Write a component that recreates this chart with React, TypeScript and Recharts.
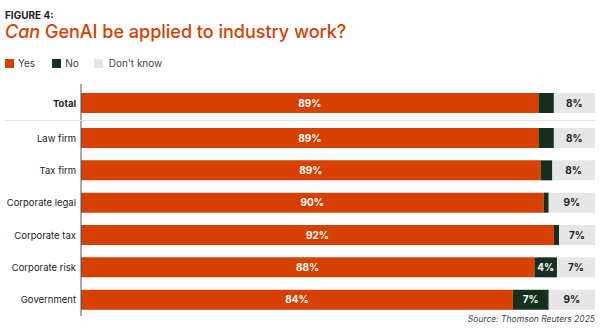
import React from 'react';
import { BarChart, Bar, XAxis, YAxis, LabelList } from 'recharts';

const totalLabel = ['Total'];
const totalYes = [89];
const totalNo = [3];
const totalDontKnow = [8];

const categories = ['Law firm', 'Tax firm', 'Corporate legal', 'Corporate tax', 'Corporate risk', 'Government'];
const yes = [89, 89.4, 90, 92, 88.2, 84];
const no = [3, 2.3, 1, 1, 4.4, 7];
const dontKnow = [8, 8.3, 9, 7, 7.4, 9];

const seriesNames = ['Yes', 'No', "Don't know"];
const colors = ['#D64000', '#15301F', '#E6E6E6'];

const FONT = 'Inter, "Noto Sans", sans-serif';

const build = (names: string[], y: number[], n: number[], d: number[]) =>
  names.map((name, i) => ({ name, yes: y[i], no: n[i], dk: d[i] }));

const totalData = build(totalLabel, totalYes, totalNo, totalDontKnow);
const rowData = build(categories, yes, no, dontKnow);

const pct = (v: any) => `${Math.round(Number(v))}%`;
const pctIfBig = (v: any) => (Number(v) >= 4 ? `${Math.round(Number(v))}%` : '');

const labelStyle = { fontSize: 10, fontWeight: 700, fontFamily: FONT };

// single-line tick, recharts wraps long labels otherwise
const CatTick = (props: any) => {
  const { x, y, payload, bold } = props;
  return (
    <text
      x={x - 5}
      y={y}
      dy={3.5}
      textAnchor="end"
      fontSize={9.5}
      fill="#222"
      fontFamily={FONT}
      fontWeight={bold ? 700 : 400}
    >
      {payload.value}
    </text>
  );
};

function Rows({ data, height, bold }: { data: any[]; height: number; bold?: boolean }) {
  return (
    <BarChart
      width={603}
      height={height}
      data={data}
      layout="vertical"
      margin={{ top: 0, right: 8, bottom: 0, left: 0 }}
      barSize={20}
    >
      <XAxis type="number" domain={[0, 100]} hide />
      <YAxis
        type="category"
        dataKey="name"
        width={81}
        axisLine={{ stroke: '#555' }}
        tickLine={false}
        tickSize={0}
        tickMargin={0}
        tick={<CatTick bold={bold} />}
      />
      <Bar dataKey="yes" stackId="a" fill={colors[0]} isAnimationActive={false}>
        <LabelList dataKey="yes" position="center" formatter={pct} fill="#fff" style={labelStyle} />
      </Bar>
      <Bar dataKey="no" stackId="a" fill={colors[1]} isAnimationActive={false}>
        <LabelList dataKey="no" position="center" formatter={pctIfBig} fill="#fff" style={labelStyle} />
      </Bar>
      <Bar dataKey="dk" stackId="a" fill={colors[2]} isAnimationActive={false}>
        <LabelList dataKey="dk" position="center" formatter={pct} fill="#222" style={labelStyle} />
      </Bar>
    </BarChart>
  );
}

export default function App() {
  return (
    <div
      style={{
        position: 'fixed',
        left: 0,
        top: 0,
        width: 603,
        height: 329,
        background: '#fff',
        fontFamily: FONT,
        overflow: 'hidden',
      }}
    >
      <div style={{ position: 'absolute', left: 5, top: 9, fontSize: 10, fontWeight: 700, color: '#222' }}>
        FIGURE 4:
      </div>
      <div style={{ position: 'absolute', left: 5, top: 21, fontSize: 18, fontWeight: 500, color: '#D64000' }}>
        <i>Can</i> GenAI be applied to industry work?
      </div>
      <div style={{ position: 'absolute', left: 5, top: 57, display: 'flex', fontSize: 10, color: '#444' }}>
        {seriesNames.map((s, i) => (
          <div key={s} style={{ display: 'flex', alignItems: 'center', marginRight: i === 0 ? 17 : 15 }}>
            <span style={{ width: 9, height: 9, background: colors[i], display: 'inline-block', marginRight: i === 2 ? 6 : 4 }} />
            {s}
          </div>
        ))}
      </div>
      <div style={{ position: 'absolute', left: 0, top: 84 }}>
        <Rows data={totalData} height={38} bold />
      </div>
      <div style={{ position: 'absolute', left: 5, top: 120, width: 590, height: 1, background: '#e2e2e2' }} />
      <div style={{ position: 'absolute', left: 0, top: 122 }}>
        <Rows data={rowData} height={194} />
      </div>
      <div
        style={{
          position: 'absolute',
          right: 8,
          top: 314,
          fontSize: 8.5,
          fontStyle: 'italic',
          color: '#444',
        }}
      >
        Source: Thomson Reuters 2025
      </div>
    </div>
  );
}
